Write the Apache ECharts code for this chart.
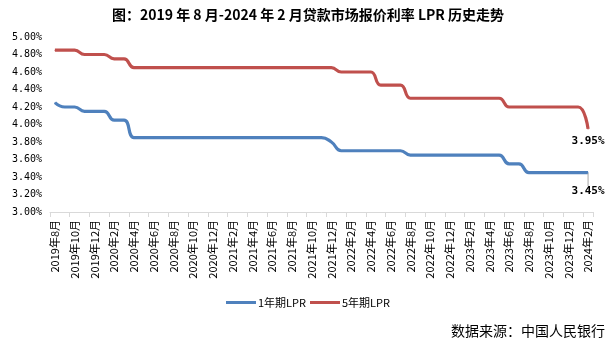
<!DOCTYPE html>
<html><head><meta charset="utf-8">
<script src="https://cdn.jsdelivr.net/npm/echarts@6/dist/echarts.min.js"></script>
<style>html,body{margin:0;padding:0;background:#fff;}#c{width:616px;height:351px;}</style>
</head><body><div id="c"></div>
<script>
const titleText = '图：2019 年 8 月-2024 年 2 月贷款市场报价利率 LPR 历史走势';
const sourceText = '数据来源：中国人民银行';
const categories = [
 '2019年8月','2019年9月','2019年10月','2019年11月','2019年12月',
 '2020年1月','2020年2月','2020年3月','2020年4月','2020年5月','2020年6月','2020年7月','2020年8月','2020年9月','2020年10月','2020年11月','2020年12月',
 '2021年1月','2021年2月','2021年3月','2021年4月','2021年5月','2021年6月','2021年7月','2021年8月','2021年9月','2021年10月','2021年11月','2021年12月',
 '2022年1月','2022年2月','2022年3月','2022年4月','2022年5月','2022年6月','2022年7月','2022年8月','2022年9月','2022年10月','2022年11月','2022年12月',
 '2023年1月','2023年2月','2023年3月','2023年4月','2023年5月','2023年6月','2023年7月','2023年8月','2023年9月','2023年10月','2023年11月','2023年12月',
 '2024年1月','2024年2月'];
const seriesNames = ['1年期LPR','5年期LPR'];
const lpr1y = [4.25,4.20,4.20,4.15,4.15,4.15,4.05,4.05,
 3.85,3.85,3.85,3.85,3.85,3.85,3.85,3.85,3.85,3.85,3.85,3.85,3.85,3.85,3.85,3.85,3.85,3.85,3.85,3.85,
 3.80,
 3.70,3.70,3.70,3.70,3.70,3.70,3.70,
 3.65,3.65,3.65,3.65,3.65,3.65,3.65,3.65,3.65,3.65,
 3.55,3.55,
 3.45,3.45,3.45,3.45,3.45,3.45,3.45];
const lpr5y = [4.85,4.85,4.85,4.80,4.80,4.80,4.75,4.75,
 4.65,4.65,4.65,4.65,4.65,4.65,4.65,4.65,4.65,4.65,4.65,4.65,4.65,4.65,4.65,4.65,4.65,4.65,4.65,4.65,4.65,
 4.60,4.60,4.60,4.60,
 4.45,4.45,4.45,
 4.30,4.30,4.30,4.30,4.30,4.30,4.30,4.30,4.30,4.30,
 4.20,4.20,4.20,4.20,4.20,4.20,4.20,4.20,
 3.95];
const yMin = 3, yMax = 5, yStep = 0.2;
const colors = ['#4f81bd','#c0504d'];

function withEndLabel(arr, dist){
  return arr.map((v,i)=> i===arr.length-1 ? {
    value: v,
    label: {show:true, position:'bottom', distance: dist,
      formatter: p => p.value.toFixed(2)+'%',
      fontFamily:'DejaVu Sans Mono', fontSize:11, fontWeight:'bold', color:'#000'}
  } : v);
}

const chart = echarts.init(document.getElementById('c'), null, {renderer:'canvas'});
chart.setOption({
  animation:false,
  title:{text:titleText,left:'center',top:3,
    textStyle:{fontFamily:'Noto Sans CJK SC',fontSize:14,fontWeight:'bold',color:'#000'}},
  graphic:[{type:'text',right:11,top:324,
    style:{text:sourceText,font:'14px "Noto Sans CJK SC"',fill:'#000'}}],
  legend:{bottom:38,left:'center',itemGap:4,itemWidth:30,itemHeight:3,icon:'rect',
    textStyle:{fontFamily:'Noto Sans CJK SC',fontSize:11,color:'#000',padding:[0,0,0,-3]},
    data:seriesNames},
  grid:{left:50,right:23,top:37,bottom:139},
  xAxis:{type:'category',data:categories,boundaryGap:true,
    axisLine:{lineStyle:{color:'#d9d9d9'}},
    axisTick:{show:true,interval:1,length:5,lineStyle:{color:'#d9d9d9'}},
    axisLabel:{interval:1,rotate:90,margin:8,fontFamily:'Noto Sans CJK SC',fontSize:11,color:'#000'}},
  yAxis:{type:'value',min:yMin,max:yMax,interval:yStep,
    splitLine:{show:false},axisLine:{show:false},axisTick:{show:false},
    axisLabel:{formatter:v=>v.toFixed(2)+'%',margin:8,fontFamily:'DejaVu Sans Mono',fontSize:10,color:'#000'}},
  series:[
    {name:seriesNames[0],type:'line',data:withEndLabel(lpr1y,3),smooth:0.5,
      showSymbol:true,showAllSymbol:true,symbol:'circle',symbolSize:1,itemStyle:{color:colors[0],borderWidth:0},
      color:colors[0],lineStyle:{width:3.2,color:colors[0]},
      labelLayout:{dy:10},labelLine:{show:true,lineStyle:{color:'#a6a6a6',width:1}}},
    {name:seriesNames[1],type:'line',data:withEndLabel(lpr5y,6),smooth:0.5,
      showSymbol:true,showAllSymbol:true,symbol:'circle',symbolSize:1,itemStyle:{color:colors[1],borderWidth:0},
      color:colors[1],lineStyle:{width:3.2,color:colors[1]}}
  ]
});
</script></body></html>
